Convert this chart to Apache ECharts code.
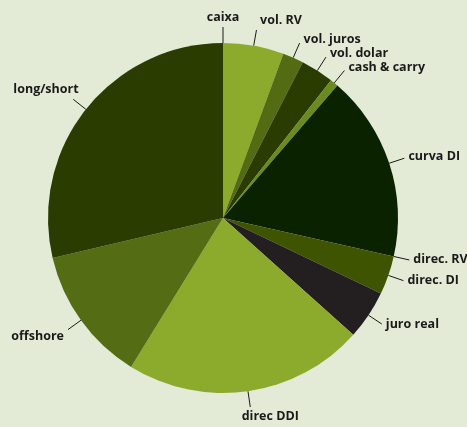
<!DOCTYPE html>
<html>
<head>
<meta charset="utf-8">
<script src="https://cdn.jsdelivr.net/npm/echarts@6/dist/echarts.min.js"></script>
<style>
html,body{margin:0;padding:0;background:#e3ead5;}
#chart{width:467px;height:427px;}
</style>
</head>
<body>
<div id="chart"></div>
<script>
var categories = ['caixa','vol. RV','vol. juros','vol. dolar','cash & carry','curva DI','direc. RV','direc. DI','juro real','direc DDI','offshore','long/short'];
var values = [0, 5.61, 1.92, 3.06, 0.75, 17.19, 0, 3.58, 4.53, 22.17, 12.53, 28.67];
var colors = ['#8cab2c','#8cab2c','#536b12','#2b3c00','#6b8a1f','#0a2200','#3e5400','#3e5400','#231f20','#8cab2c','#546c14','#2b3c00'];

var chart = echarts.init(document.getElementById('chart'));
var data = categories.map(function(c,i){ return {name:c, value:values[i], itemStyle:{color:colors[i]}}; });

chart.setOption({
  backgroundColor:'#e3ead5',
  animation:false,
  series:[{
    type:'pie',
    center:[223,218],
    radius:[0,175],
    startAngle:90,
    clockwise:true,
    avoidLabelOverlap:false,
    data:data,
    itemStyle:{borderWidth:0},
    label:{
      show:true,
      position:'outside',
      color:'#1a1a1a',
      fontFamily:'Open Sans',
      fontWeight:'bold',
      fontSize:12.5,
      formatter:'{b}'
    },
    labelLine:{
      show:true,
      length:16,
      length2:0,
      smooth:false,
      lineStyle:{color:'#1a1a1a',width:1}
    },
    labelLayout:function(p){
      var pts = p.labelLinePoints;
      if(!pts) return {};
      var a=pts[0], b=pts[1];
      var L=Math.hypot(b[0]-a[0], b[1]-a[1]) || 1;
      var ux=(b[0]-a[0])/L, uy=(b[1]-a[1])/L;
      var w=p.labelRect.width;
      var res={labelLinePoints:[a,b,b]};
      if(Math.abs(ux)<0.2){
        res.align='center';
        res.x=b[0]+(ux>=0?1:-1)*Math.min(Math.abs(ux)*140, w/2+4);
        res.verticalAlign = uy<0?'bottom':'top';
        res.y=b[1]+(uy<0?-3:3);
      } else if(ux>0){
        res.align='left';
        res.x=b[0]+4;
        res.verticalAlign='middle';
        res.y=b[1]+uy*3-1;
      } else {
        res.align='right';
        res.x=b[0]-4+(uy<0?-uy*15:0);
        res.verticalAlign='middle';
        res.y=b[1]+uy*14-1;
      }
      return res;
    }
  }]
});
</script>
</body>
</html>
